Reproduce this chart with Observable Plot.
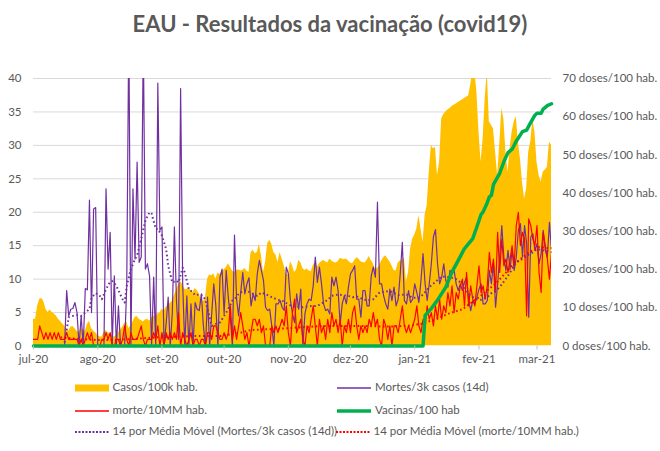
<!DOCTYPE html>
<html><head><meta charset="utf-8">
<script src="https://cdn.jsdelivr.net/npm/d3@7"></script>
<script src="https://cdn.jsdelivr.net/npm/@observablehq/plot@0.6"></script>
<style>
body{margin:0;background:#fff;}
#wrap{position:relative;width:660px;height:451px;font-family:Lato,sans-serif;color:#595959;overflow:hidden;background:#fff}
#title{position:absolute;top:11px;left:0;width:660px;text-align:center;font-weight:bold;font-size:22px;line-height:1.2;}
#chart{position:absolute;left:0;top:0}
.lg{position:absolute;font-size:11.5px;white-space:nowrap;line-height:14px}
.sym{position:absolute}
</style></head>
<body><div id="wrap"><div id="chart"></div><div id="title">EAU - Resultados da vacinação (covid19)</div><div id="legend"></div></div>
<script>
// daily values starting 2020-07-01 (index = day)
const casos = [4.0,4.0,6.0,7.0,7.1,6.6,5.5,5.0,5.4,5.0,
4.8,4.5,4.0,3.7,3.3,3.0,2.4,2.2,2.8,2.9,
2.6,2.2,2.0,2.6,2.4,2.2,3.2,3.7,2.6,2.2,
2.0,1.6,1.4,1.3,2.0,2.3,2.0,1.8,1.6,1.3,
1.6,2.0,2.4,2.8,3.4,3.6,2.6,3.0,3.6,4.3,
4.4,4.0,3.8,3.6,3.9,4.0,3.7,4.2,4.5,4.3,
4.8,4.9,5.5,5.2,5.8,6.0,6.4,6.7,7.6,8.3,
9.2,9.6,9.2,8.5,8.4,8.7,8.3,8.0,8.6,8.3,
7.8,6.8,6.6,7.2,10.0,10.6,10.5,10.8,10.0,10.9,
10.7,11.0,11.4,11.7,12.3,11.8,11.2,11.0,11.2,11.4,
11.2,11.3,11.6,11.2,11.0,14.0,14.3,13.8,14.0,15.2,
13.5,11.0,12.5,15.3,15.8,15.2,14.0,13.6,12.5,14.0,
13.0,12.0,10.8,10.6,12.6,12.0,11.0,11.4,12.8,12.5,
11.6,11.3,11.5,11.2,11.1,12.0,12.5,11.8,12.3,12.6,
12.8,12.6,12.4,13.0,12.7,12.5,12.4,12.6,13.1,13.0,
12.9,13.0,12.7,12.4,12.3,12.8,13.2,13.0,12.6,12.5,
12.4,12.8,13.4,12.8,12.3,11.5,11.6,12.0,12.7,13.2,
13.5,13.0,12.6,12.0,11.3,11.2,12.4,12.7,12.8,13.2,
9.6,11.0,14.5,16.0,16.6,17.5,19.5,17.5,15.5,19.6,
21.0,26.0,30.0,29.5,29.7,25.5,27.5,34.0,34.6,35.0,
35.3,35.5,35.8,36.0,36.2,36.4,36.6,36.8,37.0,37.2,
37.4,39.0,41,41,38,32,27.5,31,37,41,
33.5,33,32.5,29,25.5,30,35.5,34,29,26,
29.5,32,33.5,34.3,30.5,28,24.5,22,23.5,29,
30.5,33.8,32,27.5,25.5,24.5,26,26.3,26.7,30.5,
30];
const mortes = [null,null,null,null,null,null,null,null,null,null,
null,null,null,null,null,0,8.3,4.5,5.5,5.6,
6.5,5.0,0,4.5,0,8.6,8.4,21.8,5.0,20.5,
20.7,0,0,0,0,23.5,11.5,17.0,0,10.5,
0,6.0,0,0,0,9,48,0,23.5,13,
27.5,12.5,13.3,46,11.5,12.3,10.5,0,10.3,0,
39.3,17.3,17.8,0,3.3,7.3,0,5,17.8,6.8,
1,38.5,9.3,0,7.5,0,6.3,0,6.5,5.5,
5.3,7.8,3,0,7.3,0,4.8,9.3,6,0,
10.3,11.5,4.8,11.3,7.3,4.3,0,16.6,7,4.5,
8,11,7.8,9.3,10.2,6.0,7.8,6.8,10.8,12.8,
11.3,9.8,5.8,5.3,5.5,3.0,0,6.3,6.3,6.8,
5.8,5.3,11.8,10.8,6.8,4.8,3.5,7.8,5.5,8.5,
0,4.8,6.3,7.0,6.8,9,13.3,9.5,11.8,9.3,
6.3,5.3,5.5,4.8,10.3,9.0,10.3,8.3,3.3,6.3,
7.5,6.3,8.8,10.8,11.3,12.0,7.0,7.0,4.3,8.3,
8.3,6.0,6.0,10.5,11.8,10.3,21.5,9.3,9.3,7.5,
6.3,5.5,8.5,6.8,8.8,6.0,7.0,10.8,15.5,6.8,
6.3,8.3,6.5,7.0,9.3,8.0,6.5,9.8,13.8,9.3,
6.8,9.3,12.3,16.3,17.4,12.3,9.3,10.3,12.3,9.8,
8.8,11.3,10.8,11.3,9.3,8.3,9.3,8.3,9.5,10.3,
7,5.3,6.8,6.3,7.3,8.5,9.3,6.3,6.3,6.8,
11.3,9.3,12.5,5.8,9.3,13.3,18.0,13.3,11.3,14.3,
11.5,14.3,11.3,13.3,17.3,18.3,13.3,18.0,15.3,4.3,
16.3,16.8,14.3,15.3,12.3,13.8,17.3,14.3,13.3,18.5,
14.3];
const morte = [1,1,1,3,2,1,2,1,2,1,
2,1,2,1,1,1,2,1,1,1,
1,1,0,1,0,1,2,1,2,0,
0,0,0,1,1,2,1,2,0,0,
1,1,0,1,3,1,0,2,1,1,
1,2,3,1,0,1,1,1,2,1,
3,0,2,0,2,1,2,1,2,1,
5,0,2,1,0,1,2,0,1,1,
0,1,1,0,2,2,1,3,3,2,
1,1,2,1,2,6,1,3,1,3,
5,3,1,2,0,2,4,4,3,4,
2,3,0,0,0,3,2,3,2,3,
4,3,6,2,0,5,7,2,3,4,
1,0,3,2,4,6,3,0,4,2,
3,1,4,2,5,3,4,2,4,0,
3,2,4,2,5,6,3,1,3,2,
3,2,4,3,5,3,4,1,0,4,
3,1,3,0,3,3,2,4,6,3,
2,3,2,3,4,6,3,2,4,3,
6,4,5,3,6,4,7,4,6,5,
8,6,9,5,8,7,9,10,6,11,
6,9,7,6,9,12,8,9,7,9,
14,11,13,8,17,11,16,12,13,11,
13,15,12,18,20,15,17,16,4.5,19,
18,16,15,18,11,8,17,15,13,10,
14];
// [day, value]
const vacinas = [[0,0],[188,0],[189,8.0],[192,9.8],[195,12],[199,15.4],[202,19.4],[205,22.4],[208,25.5],[212,28.1],[214,31.2],[216,34.4],[217,35.1],[219,37.5],[220,39.0],[221,39.4],[222,42.3],[225,45.2],[227,48.2],[229,50.6],[231,51.5],[233,53.6],[236,56.1],[238,56.5],[240,58.5],[242,60.4],[243,60.9],[245,60.9],[246,62],[248,62.9],[250,63.4]];
const mediaMortes = [[15,0.5],[17,4.3],[19,4.5],[21,4.6],[23,4.5],[25,5.0],[27,5.5],[28,7.2],[30,7.9],[32,7.5],[33,7.0],[35,8.5],[37,9.6],[38,9.7],[40,9.0],[41,8.3],[43,7.0],[44,6.5],[45,9.0],[47,11.5],[49,13.0],[50,13.5],[52,16.0],[54,18.8],[56,20.0],[57,19.8],[59,17.5],[60,17.5],[62,16.5],[64,14.5],[65,12.0],[67,9.5],[69,9.8],[70,9.5],[72,11.7],[73,11.0],[75,8.5],[77,8.0],[78,7.6],[80,7.7],[82,7.5],[83,6.8],[85,4.3],[86,3.0],[88,3.3],[90,3.5],[91,4.0],[93,5.0],[94,5.5],[96,6.8],[98,7.3],[99,7.8],[101,8.2],[103,8.3],[104,8.1],[108,7.5],[110,8.0],[113,7.6],[115,7.3],[118,6.9],[120,6.8],[122,6.4],[125,5.9],[127,5.9],[130,5.8],[132,5.9],[135,6.0],[137,6.0],[140,6.5],[142,6.9],[144,7.5],[147,7.7],[149,7.6],[152,7.5],[154,7.3],[156,7.4],[159,7.0],[161,6.8],[164,7.0],[167,8.0],[170,8.2],[173,8.1],[176,7.6],[180,7.7],[183,7.2],[186,7.2],[188,7.7],[191,8.8],[194,9.6],[197,10.4],[201,10.3],[204,10.0],[207,9.3],[210,7.8],[212,7.3],[214,7.0],[216,6.9],[219,7.3],[221,7.9],[224,8.5],[226,9.2],[229,10.5],[231,11.5],[233,12.5],[236,13.0],[238,13.5],[241,14.0],[243,14.5],[246,14.3],[248,14.2],[250,14.0]];
const mediaMorte = [[13,1.3],[20,1.1],[30,0.9],[40,0.9],[50,1.1],[60,1.3],[70,1.4],[80,1.5],[90,1.5],[100,2.0],[105,2.4],[113,2.5],[120,2.6],[129,2.8],[140,3.0],[150,3.0],[160,3.0],[170,2.9],[180,3.0],[187,3.3],[194,4.0],[200,4.8],[207,5.5],[215,7.3],[223,9.3],[231,12.0],[239,14.0],[244,14.8],[250,14.6]];
const monthLabels = ["jul-20","ago-20","set-20","out-20","nov-20","dez-20","jan-21","fev-21","mar-21"];
const leftTicks = [0,5,10,15,20,25,30,35,40];
const rightTicks = [0,10,20,30,40,50,60,70];
const rightLabels = ["0 doses/100 hab.","10 doses/100 hab.","20 doses/100 hab.","30 doses/100 hab.","40 doses/100 hab.","50 doses/100 hab.","60 doses/100 hab.","70 doses/100 hab."];
const legendLabels = ["Casos/100k hab.","Mortes/3k casos (14d)","morte/10MM hab.","Vacinas/100 hab","14 por Média Móvel (Mortes/3k casos (14d))","14 por Média Móvel (morte/10MM hab.)"];

const C = {casos:"#FFC000", mortes:"#7030A0", morte:"#FF0000", vac:"#00B050"};
const start = Date.UTC(2020,6,1);
const day = d => new Date(start + d*864e5);
const daily = arr => arr.map((v,i)=>({date: day(i), v}));
const pairs = arr => arr.map(([d,v])=>({date: day(d), v}));
const toLeft = v => v*40/70;   // secondary axis 0-70 onto primary 0-40
const monthDates = monthLabels.map((_,i)=>new Date(Date.UTC(2020,6+i,1)));
const monthMap = new Map(monthDates.map((d,i)=>[+d, monthLabels[i]]));
const rightMap = new Map(rightTicks.map((t,i)=>[toLeft(t).toFixed(4), rightLabels[i]]));
const dotted = "1.6 2.6";

const chart = Plot.plot({
  width: 660, height: 380,
  marginTop: 78, marginBottom: 34.5, marginLeft: 33, marginRight: 109,
  style: {fontFamily: "Lato, sans-serif", fontSize: "11.5px", color: "#595959", background: "transparent", overflow: "visible"},
  x: {type: "utc", domain: [day(0), day(250)]},
  y: {domain: [0, 40]},
  marks: [
    Plot.gridY(leftTicks.slice(1), {stroke: "#D9D9D9", strokeOpacity: 1, strokeWidth: 1}),
    Plot.areaY(daily(casos), {x: "date", y: "v", fill: C.casos, clip: true}),
    Plot.lineY(daily(mortes), {x: "date", y: "v", stroke: C.mortes, strokeWidth: 1.2, clip: true}),
    Plot.lineY(daily(morte), {x: "date", y: "v", stroke: C.morte, strokeWidth: 1.2, clip: true}),
    Plot.lineY(pairs(mediaMortes), {x: "date", y: "v", stroke: C.mortes, strokeWidth: 2, strokeDasharray: dotted, strokeLinecap: "butt"}),
    Plot.lineY(pairs(mediaMorte), {x: "date", y: "v", stroke: C.morte, strokeWidth: 2, strokeDasharray: dotted, strokeLinecap: "butt"}),
    Plot.lineY(pairs(vacinas), {x: "date", y: d => toLeft(d.v), stroke: C.vac, strokeWidth: 3.5}),
    Plot.axisY(leftTicks, {anchor: "left", tickSize: 0, tickPadding: 12, label: null, fill: "#595959"}),
    Plot.axisY(rightTicks.map(toLeft), {anchor: "right", tickSize: 0, tickPadding: 11, label: null, fill: "#595959",
      tickFormat: d => rightMap.get(d.toFixed(4))}),
    Plot.axisX(monthDates, {tickSize: 4, tickPadding: 5, label: null, stroke: "#BFBFBF", fill: "#595959",
      tickFormat: d => monthMap.get(+d)})
  ]
});
document.getElementById("chart").appendChild(chart);

// legend
const lg = document.getElementById("legend");
const items = [
  {label: legendLabels[0], kind: "rect", color: C.casos, x: 75, tx: 112.5, y: 387.7},
  {label: legendLabels[1], kind: "line", color: C.mortes, w: 1.5, x: 337, tx: 375, y: 387.7},
  {label: legendLabels[2], kind: "line", color: C.morte, w: 1.5, x: 75, tx: 112.5, y: 410.7},
  {label: legendLabels[3], kind: "line", color: C.vac, w: 3.5, x: 337, tx: 375, y: 410.7},
  {label: legendLabels[4], kind: "dot", color: C.mortes, w: 2, x: 75, tx: 112.5, y: 431.7},
  {label: legendLabels[5], kind: "dot", color: C.morte, w: 2, x: 336, tx: 373.5, y: 431.7}
];
const ns = "http://www.w3.org/2000/svg";
for (const it of items) {
  const s = document.createElementNS(ns, "svg");
  s.setAttribute("width", 36); s.setAttribute("height", 10);
  s.setAttribute("class", "sym");
  s.style.left = it.x + "px"; s.style.top = (it.y - 5) + "px";
  if (it.kind === "rect") {
    const r = document.createElementNS(ns, "rect");
    r.setAttribute("x", 0); r.setAttribute("y", 1.5); r.setAttribute("width", 34); r.setAttribute("height", 7);
    r.setAttribute("fill", it.color); s.appendChild(r);
  } else {
    const l = document.createElementNS(ns, "line");
    l.setAttribute("x1", 0); l.setAttribute("x2", 34); l.setAttribute("y1", 5); l.setAttribute("y2", 5);
    l.setAttribute("stroke", it.color); l.setAttribute("stroke-width", it.w);
    if (it.kind === "dot") l.setAttribute("stroke-dasharray", "2 1.5");
    s.appendChild(l);
  }
  lg.appendChild(s);
  const t = document.createElement("div");
  t.className = "lg"; t.textContent = it.label;
  t.style.left = it.tx + "px"; t.style.top = (it.y - 7.5) + "px";
  lg.appendChild(t);
}
</script>
</body></html>
